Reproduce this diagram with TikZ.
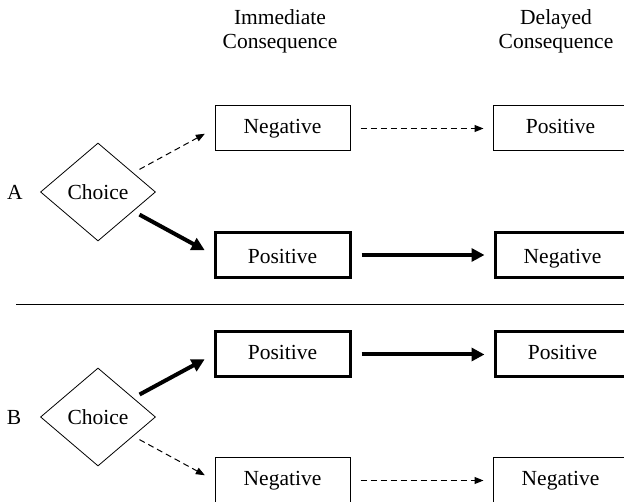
\documentclass[tikz,border=0pt]{standalone}
\usepackage{fontspec}
\setmainfont{Liberation Serif}
\usetikzlibrary{arrows.meta,positioning,shapes.geometric}

\begin{document}
\begin{tikzpicture}[x=1pt,y=-1pt,node distance=142pt,
  font=\fontsize{21.5}{24}\selectfont,
  box/.style={draw,line width=1pt,minimum width=135pt,minimum height=45pt,inner sep=0pt,
    text height=15pt,text depth=5pt},
  thickbox/.style={box,line width=3pt},
  low/.style={text height=17pt,text depth=0pt},
  choice/.style={draw,diamond,line width=0.8pt,minimum width=115pt,minimum height=98pt,inner sep=1pt},
  weak/.style={line width=1pt,dash pattern=on 6pt off 4pt,-{Triangle[length=9pt,width=7pt]}},
  strong/.style={line width=4pt,-{Triangle[length=13pt,width=13pt]}}]

\useasboundingbox (0,0) rectangle (624,502);

% column heads
\node[align=center] (headNow) at (280,31) {Immediate\\Consequence};
\node[align=center] (headLater) at (556,31) {Delayed\\Consequence};

% choice A
\node (labA) at (15,192) {A};
\node[choice] (choiceA) at (98,192) {Choice};
\node[box] (negNowA) at (282.5,128.5) {Negative};
\node[box,right=of negNowA] (posLaterA) {Positive};
\node[thickbox,low] (posNowA) at (282.5,255) {Positive};
\node[thickbox,low,right=of posNowA] (negLaterA) {Negative};

\draw[weak,shorten <=7pt,shorten >=11pt] (choiceA) -- (negNowA.west);
\draw[strong,shorten <=7pt,shorten >=10pt] (choiceA) -- (posNowA.west);
\draw[weak,shorten <=10pt,shorten >=9pt] (negNowA) -- (posLaterA);
\draw[strong,shorten <=10pt,shorten >=9pt] (posNowA) -- (negLaterA);

\draw[line width=0.8pt] (16,304) -- (624,304);

% choice B
\node (labB) at (14,417) {B};
\node[choice] (choiceB) at (98,417) {Choice};
\node[thickbox] (posNowB) at (282.5,354.5) {Positive};
\node[thickbox,right=of posNowB] (posLaterB) {Positive};
\node[box] (negNowB) at (282.5,480.5) {Negative};
\node[box,right=of negNowB] (negLaterB) {Negative};

\draw[strong,shorten <=7pt,shorten >=10pt] (choiceB) -- (posNowB.west);
\draw[weak,shorten <=7pt,shorten >=11pt] (choiceB) -- (negNowB.west);
\draw[strong,shorten <=10pt,shorten >=9pt] (posNowB) -- (posLaterB);
\draw[weak,shorten <=10pt,shorten >=9pt] (negNowB) -- (negLaterB);

\end{tikzpicture}
\end{document}
